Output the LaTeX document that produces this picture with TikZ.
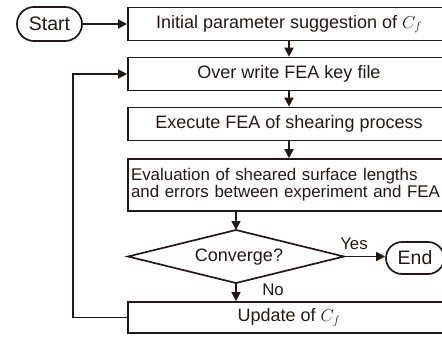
\documentclass[tikz,border=0pt]{standalone}
\usepackage{fontspec}
\setmainfont{Liberation Sans}
\usetikzlibrary{arrows.meta,shapes.misc}
\definecolor{ink}{RGB}{35,24,21}
\begin{document}
\begin{tikzpicture}[x=1pt,y=-1pt,
  every node/.style={text=ink},
  box/.style={draw=ink, line width=1.7pt, minimum width=322pt, minimum height=33pt, inner sep=0pt, font=\fontsize{18}{20}\selectfont},
  term/.style={draw=ink, line width=1.7pt, rounded rectangle, inner sep=0pt, font=\fontsize{19.5}{21}\selectfont},
  lbl/.style={font=\fontsize{16.8}{18}\selectfont, inner sep=0pt},
  arr/.style={draw=ink, line width=1.7pt, -{Triangle[length=9pt,width=9pt]}},
  ln/.style={draw=ink, line width=1.7pt, line join=miter}]
\useasboundingbox (0,0) rectangle (442,338);
\clip (0,0) rectangle (442,338);
\node[term, minimum width=65pt, minimum height=34pt] (start) at (49.5,24) {Start};
\node[box] (b1) at (289,24) {Initial parameter suggestion of $C_f$};
\node[box] (b2) at (289,74) {Over write FEA key file};
\node[box] (b3) at (289,124) {Execute FEA of shearing process};
\node[box, minimum height=52pt, inner xsep=3pt, text width=316pt, align=left, font=\fontsize{16.9}{17}\selectfont] (b4) at (289,185) {\mbox{Evaluation of sheared surface lengths}\\\mbox{and errors between experiment and FEA}};
\coordinate (dl) at (128,256.5);
\coordinate (dt) at (236,230);
\coordinate (dr) at (344,256.5);
\coordinate (db) at (236,283);
\draw[ln] (dl) -- (dt) -- (dr) -- (db) -- cycle;
\node[font=\fontsize{18}{20}\selectfont, inner sep=0pt] (conv) at (239,257) {Converge?};
\node[term, minimum width=58pt, minimum height=32pt] (end) at (415,258) {End};
\node[box, minimum height=31pt] (up) at (289,317.5) {Update of $C_f$};
\node[lbl] (yes) at (354,244) {Yes};
\node[lbl] (no) at (273,290) {No};
\coordinate (loop) at (73,0);
\draw[arr] (start.east) -- (b1.west);
\draw[arr] (b1.south) -- (b2.north);
\draw[arr] (b2.south) -- (b3.north);
\draw[arr] (b3.south) -- (b4.north);
\draw[arr] (dt |- b4.south) -- (dt);
\draw[arr] (dr) -- (dr -| end.west);
\draw[arr] (db) -- (db |- up.north);
\draw[arr] (up.west) -- (up.west -| loop) -- (b2.west -| loop) -- (b2.west);
\end{tikzpicture}
\end{document}
